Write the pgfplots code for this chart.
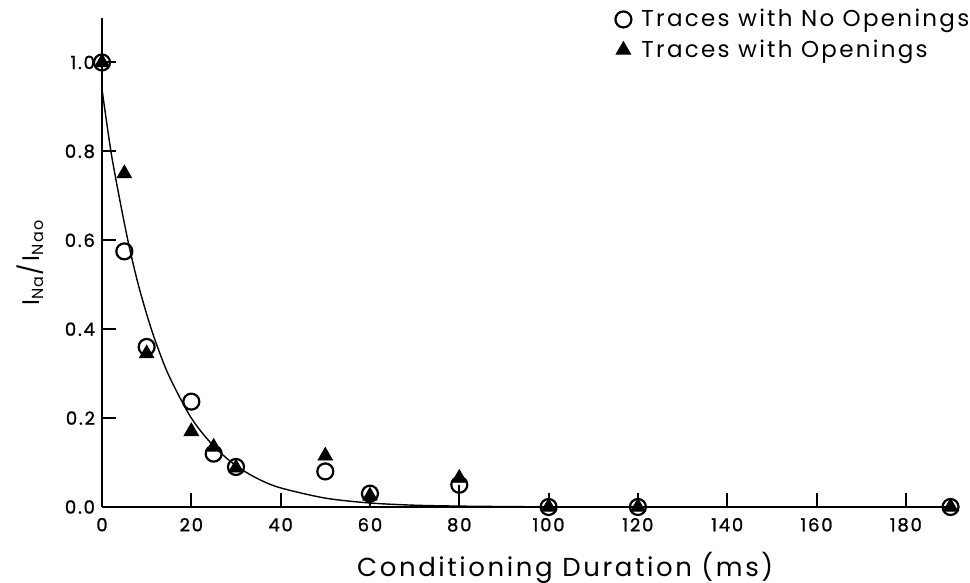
\documentclass[border=0pt]{standalone}
\usepackage{pgfplots}
\pgfplotsset{compat=1.18}
\usepackage{fontspec}
\setmainfont{Poppins}[LetterSpace=10]
\newfontfamily\tickfont{Poppins}[LetterSpace=10,FakeBold=1.2]
\begin{document}
\begin{tikzpicture}
\begin{axis}[
  name=ax,
  scale only axis,
  width=426.5pt, height=244.5pt,
  xmin=0, xmax=191, ymin=0, ymax=1.1,
  axis x line*=bottom, axis y line*=left,
  axis line style={line width=1pt,-},
  tick align=inside,
  major tick length=7pt,
  tick style={line width=1pt,black},
  xtick={0,20,...,180},
  ytick={0,0.2,0.4,0.6,0.8,1.0},
  yticklabel style={/pgf/number format/.cd,fixed,fixed zerofill,precision=1},
  /pgf/number format/assume math mode=true,
  ticklabel style={font=\tickfont\fontsize{9}{10}\selectfont},
  xticklabel shift=2pt,
  xlabel={Conditioning Duration (ms)},
  ylabel={I\textsubscript{Na}/I\textsubscript{Nao}},
  xlabel style={at={(axis description cs:0.543,-0.125)},anchor=center,font=\fontsize{13}{14}\selectfont},
  ylabel style={at={(axis description cs:-0.084,0.5)},anchor=center,font=\fontsize{12}{13}\selectfont},
  legend style={at={(1.022,1.027)},anchor=north east,draw=none,fill=none,inner sep=0pt,
    font=\fontsize{11.5}{13}\selectfont,row sep=1pt},
  legend cell align=left,
  clip=false,
]
\addplot[black, line width=0.7pt, smooth, no marks, forget plot] coordinates {
 (0,0.94) (2,0.80) (4,0.69) (6,0.59) (8,0.505) (10,0.434) (12,0.372) (15,0.295)
 (20,0.20) (25,0.137) (30,0.093) (35,0.063) (40,0.043) (50,0.020) (60,0.009)
 (70,0.004) (80,0.002) (90,0.001) (100,0.0004) (120,0.0001) (150,0) (191,0)};
\addplot[black, line width=1pt, no marks, forget plot] coordinates {(80,0) (80,0.05)};
\addplot[only marks, mark=o, mark size=4pt, mark options={line width=1.1pt,black}] coordinates {
 (0,1.0) (5,0.575) (10,0.36) (20,0.237) (25,0.12) (30,0.09) (50,0.08) (60,0.03)
 (80,0.05) (100,0) (120,0) (190,0)};
\addlegendentry{\hspace{3pt}Traces with No Openings}
\addplot[only marks, mark=triangle*, mark size=4.2pt, mark options={black,fill=black}] coordinates {
 (0,1.0) (5,0.75) (10,0.345) (20,0.17) (25,0.135) (30,0.088) (50,0.115) (60,0.025)
 (80,0.065) (100,0) (120,0) (190,0)};
\addlegendentry{\hspace{3pt}Traces with Openings}
\end{axis}
\pgfresetboundingbox
\path ([xshift=-51pt,yshift=-38pt]ax.south west) rectangle ([xshift=7.5pt,yshift=9pt]ax.north east);
\end{tikzpicture}
\end{document}
